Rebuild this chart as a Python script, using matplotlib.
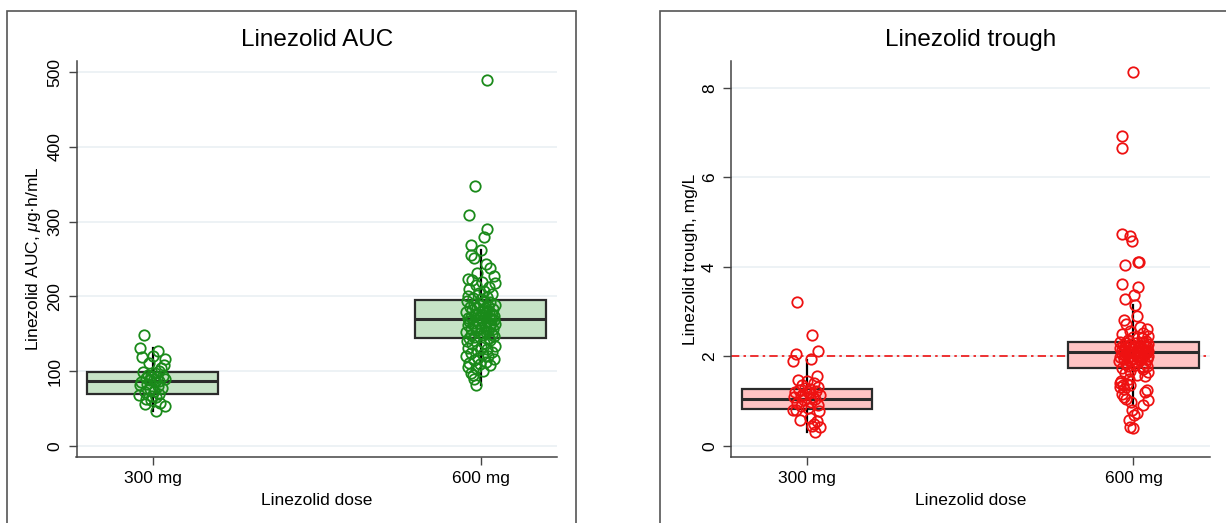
import matplotlib
matplotlib.use("Agg")
import matplotlib.pyplot as plt
from matplotlib.patches import Rectangle

plt.rcParams['font.family'] = ['Liberation Sans', 'DejaVu Sans']
plt.rcParams['mathtext.fontset'] = 'custom'
plt.rcParams['mathtext.rm'] = 'Liberation Sans'
plt.rcParams['mathtext.it'] = 'Liberation Sans:italic'

# categories
doses = ['300 mg', '600 mg']
positions = [1, 2]

# box summaries
auc_q1 = [69, 144]
auc_med = [87, 170]
auc_q3 = [99, 195]
auc_lo = [47, 82]
auc_hi = [131, 262]

trough_q1 = [0.83, 1.74]
trough_med = [1.05, 2.09]
trough_q3 = [1.27, 2.33]
trough_lo = [0.30, 0.92]
trough_hi = [1.92, 3.15]

# individual patients (value, horizontal jitter in thousandths)
auc300 = [148, 131, 127, 120, 119, 116, 111, 108, 104, 101,
          99, 97, 95, 94, 93, 92, 91, 90, 89, 88,
          87, 86, 85, 83, 81, 80, 78, 76, 74, 72,
          70, 68, 67, 65, 63, 61, 58, 56, 53, 47]
auc300_jit = [-27, -40, 17, 0, -34, 37, -12, 34, 25, 20,
              -30, 5, -15, 30, -5, 12, -22, 38, 2, -10,
              20, -35, 8, -18, -40, 15, 28, -8, 3, -25,
              18, -43, -3, 10, -20, -5, 22, -24, 37, 10]

auc600 = [489, 348, 309, 290, 280, 269, 262, 255, 252, 243, 238, 232, 227, 224,
          222, 220, 218, 215, 213, 210, 208, 205, 203, 201, 199, 198, 196,
          194, 193, 192, 190, 189, 188, 187, 186, 185, 184, 183, 182, 181, 180,
          179, 178, 177, 176, 175, 175, 174, 173, 172, 172, 171, 171, 170,
          169, 168, 168, 167, 166, 165, 165, 164, 163, 162, 161, 160, 159, 158,
          157, 156, 155, 154, 153, 152, 151, 150, 149, 148, 147, 146, 145, 144,
          142, 140, 138, 136, 134, 132, 131, 130, 128, 126, 125, 123, 121, 120,
          118, 116, 115, 113, 111, 110, 108, 106, 104, 101, 98, 95, 89, 82]
auc600_jit = [20, -18, -37, 20, 10, -28, 0, -28, -20, 15, 30, -10, 40, -38,
              -25, 5, 45, -15, 25, -35, 10, -5, 35, -40, 20, -22, 2,
              -42, 30, 8, -20, 44, -5, 22, -33, 14, -12, 38, -26, 3, 27,
              -44, 17, -8, 35, -18, 6, 42, -30, 12, -2, 25, -38, 32,
              -15, 40, 5, -36, 20, -24, 33, -6, 45, -40, 12, 28, -18, 2,
              -30, 38, -10, 22, -45, 15, -2, 35, -28, 8, 42, -20, 25, -35,
              30, -42, 10, -25, 44, 0, -38, 20, -12, 36, -30, 6, -44, 24,
              -8, 40, -20, 15, -35, -2, 28, -40, -15, 8, -30, -22, -20, -13]

trough300 = [3.22, 2.48, 2.12, 2.05, 1.93, 1.90, 1.56, 1.47, 1.45, 1.40,
             1.35, 1.32, 1.30, 1.28, 1.25, 1.22, 1.20, 1.18, 1.16, 1.14,
             1.12, 1.10, 1.08, 1.05, 1.02, 0.98, 0.95, 0.92, 0.88, 0.84,
             0.80, 0.79, 0.78, 0.62, 0.57, 0.55, 0.48, 0.44, 0.41, 0.30]
trough300_jit = [-30, 15, 33, -34, 13, -43, 30, -28, 0, 20,
                 -15, 35, -5, 10, -25, 28, -38, 5, -12, 40,
                 -20, 18, -40, 25, -8, 12, -30, 35, -18, 2,
                 -43, -35, 38, 10, -22, 30, 20, 15, 40, 25]

trough600 = [8.35, 6.93, 6.65, 4.74, 4.69, 4.57, 4.11, 4.10, 4.04, 3.62, 3.54, 3.36, 3.28,
             3.15, 2.89, 2.82, 2.72, 2.65, 2.60, 2.56, 2.52, 2.49, 2.46, 2.43, 2.40, 2.37, 2.35,
             2.32, 2.31, 2.30, 2.29, 2.28, 2.27, 2.26, 2.25, 2.24, 2.23, 2.22, 2.21, 2.20, 2.19,
             2.18, 2.17, 2.16, 2.16, 2.15, 2.14, 2.13, 2.12, 2.12, 2.11, 2.10, 2.10, 2.09,
             2.08, 2.07, 2.06, 2.05, 2.04, 2.03, 2.02, 2.01, 2.00, 1.99, 1.98, 1.97, 1.96, 1.95,
             1.94, 1.93, 1.92, 1.91, 1.90, 1.88, 1.86, 1.84, 1.82, 1.80, 1.79, 1.78, 1.76, 1.75,
             1.72, 1.68, 1.65, 1.62, 1.58, 1.55, 1.50, 1.45, 1.41, 1.39, 1.37, 1.35, 1.32, 1.28,
             1.25, 1.20, 1.16, 1.10, 1.05, 1.03, 0.98, 0.92, 0.80, 0.74, 0.69, 0.58, 0.43, 0.40]
trough600_jit = [0, -34, -34, -35, -12, -3, 15, 18, -27, -35, 15, 3, -25,
                 5, 10, -30, -22, 20, 40, -10, 30, -35, 45, 0, 25, -18, 38,
                 -40, 28, 6, -22, 44, -8, 20, -32, 36, -14, 2, 40, -26, 14,
                 -42, 30, -4, 24, -36, 10, 46, -18, 34, -30, 16, -10, 42,
                 -20, 38, 4, -34, 22, -26, 32, -8, 44, -40, 14, 26, -16, 0,
                 -30, 40, -12, 20, -44, 12, -4, 34, -24, 6, 42, -18, 28, -36,
                 30, -10, 44, -25, 12, 36, -15, -38, -40, -20, -32, -12, -42, -28,
                 40, 35, -36, -30, -22, 45, -8, 28, -5, 10, 2, -15, -10, 0]

trough_target = 2

W, H = 1226, 523
fig = plt.figure(figsize=(W / 100, H / 100), dpi=100)

# panel frames (cut off by the image edges)
for x0, x1 in [(7, 576), (659.5, 1240)]:
    fig.patches.append(Rectangle((x0 / W, -0.05), (x1 - x0) / W, 1 - 11 / H + 0.05,
                                 transform=fig.transFigure, fill=False,
                                 edgecolor='#555555', linewidth=1.2))

ax1 = fig.add_axes([76.5 / W, 1 - 457 / H, (557 - 76.5) / W, 396 / H])
ax2 = fig.add_axes([731 / W, 1 - 457 / H, (1209.5 - 731) / W, 396 / H])


def stats(q1, med, q3, lo, hi):
    return [dict(q1=q1[i], med=med[i], q3=q3[i], whislo=lo[i], whishi=hi[i])
            for i in range(len(q1))]


def panel(ax, st, groups, jits, face, pt_color, title, ylabel, yticks, ylim):
    ax.bxp(st, positions=positions, widths=0.4, showcaps=False, showfliers=False,
           patch_artist=True,
           boxprops=dict(facecolor=face, edgecolor='#2b2b2b', linewidth=1.6),
           medianprops=dict(color='#2b2b2b', linewidth=2.2),
           whiskerprops=dict(color='black', linewidth=1.6), zorder=2)
    for pos, vals, jit in zip(positions, groups, jits):
        xs = [pos + j / 1000 for j in jit]
        ax.plot(xs, vals, 'o', markersize=7.5, markerfacecolor='none',
                markeredgecolor=pt_color, markeredgewidth=1.3, zorder=3)
    ax.set_xlim(0.767, 2.233)
    ax.set_ylim(*ylim)
    ax.set_xticks(positions)
    ax.set_xticklabels(doses)
    ax.set_yticks(yticks)
    ax.grid(axis='y', color='#eaf0f3', linewidth=1.2, zorder=0)
    ax.set_axisbelow(True)
    for s in ['top', 'right']:
        ax.spines[s].set_visible(False)
    for s in ['left', 'bottom']:
        ax.spines[s].set_color('#444444')
        ax.spines[s].set_linewidth(1.1)
    ax.tick_params(direction='out', length=6, width=1, color='#444444',
                   labelsize=12.5, pad=4)
    ax.tick_params(axis='y', labelrotation=90)
    for lab in ax.get_yticklabels():
        lab.set_va('center')
    ax.set_title(title, fontsize=17.5, pad=11)
    ax.set_xlabel('Linezolid dose', fontsize=12.5, labelpad=5)
    ax.set_ylabel(ylabel, fontsize=12.5, labelpad=3)


panel(ax1, stats(auc_q1, auc_med, auc_q3, auc_lo, auc_hi),
      [auc300, auc600], [auc300_jit, auc600_jit],
      '#c6e3c6', '#1a8a1a', 'Linezolid AUC',
      r'Linezolid AUC, $\mu$g·h/mL', [0, 100, 200, 300, 400, 500], (-14.7, 515))

panel(ax2, stats(trough_q1, trough_med, trough_q3, trough_lo, trough_hi),
      [trough300, trough600], [trough300_jit, trough600_jit],
      '#ffc4c4', '#ee1111', 'Linezolid trough',
      'Linezolid trough, mg/L', [0, 2, 4, 6, 8], (-0.25, 8.6))
ax2.axhline(trough_target, color='#ee1111', linewidth=1.2,
            linestyle=(0, (5, 2.5, 1.5, 2.5)), zorder=1)

fig.savefig('out.png', dpi=100)
